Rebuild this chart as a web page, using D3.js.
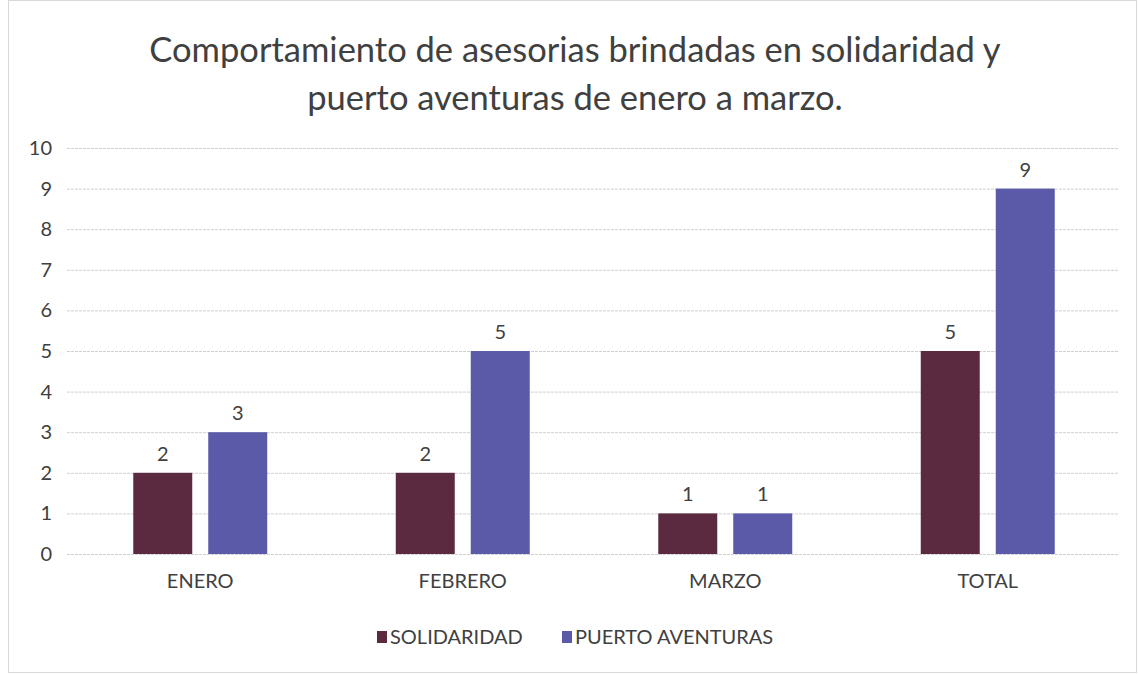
<!DOCTYPE html>
<html><head><meta charset="utf-8">
<script src="https://cdn.jsdelivr.net/npm/d3@7"></script>
<style>body{margin:0;background:#fff}svg{display:block}</style>
</head><body>
<script>
const categories = ["ENERO","FEBRERO","MARZO","TOTAL"];
const seriesNames = ["SOLIDARIDAD","PUERTO AVENTURAS"];
const solidaridad = [2,2,1,5];
const puertoAventuras = [3,5,1,9];
const yTicks = [0,1,2,3,4,5,6,7,8,9,10];
const titleLines = ["Comportamiento de asesorias brindadas en solidaridad y","puerto aventuras de enero a marzo."];
const colors = {"SOLIDARIDAD":"#5c2a40","PUERTO AVENTURAS":"#5a5aa8"};

const W=1138,H=674;
const svg=d3.select("body").append("svg").attr("width",W).attr("height",H);
const font="Lato, 'Open Sans', sans-serif";
svg.append("rect").attr("x",8.5).attr("y",0.5).attr("width",1128).attr("height",672).attr("fill","#fff").attr("stroke","#d9d9d9");

svg.selectAll("text.title").data(titleLines).join("text")
 .attr("x",575).attr("y",(d,i)=>62+i*48).attr("text-anchor","middle")
 .attr("font-family",font).attr("font-size",34.5).attr("fill","#404040").text(d=>d);

const y=d3.scaleLinear().domain([0,10]).range([554,148]);
const x0=d3.scaleBand().domain(categories).range([69,1119]).padding(0);
const x1=d3.scaleBand().domain(seriesNames).range([0,x0.bandwidth()]).paddingInner(16/75).paddingOuter(0.857);

svg.append("g").selectAll("line").data(yTicks).join("line")
 .attr("x1",67).attr("x2",1118).attr("y1",d=>y(d)+0.5).attr("y2",d=>y(d)+0.5)
 .attr("stroke","#cfcfcf").attr("stroke-width",1).attr("stroke-dasharray","3,1");

const yAxis=svg.append("g").attr("transform","translate(62,0)").call(d3.axisLeft(y).tickValues(yTicks).tickSize(0).tickPadding(10));
yAxis.select(".domain").remove();
yAxis.selectAll("text").attr("font-family",font).attr("font-size",20).attr("fill","#404040");

const data=categories.map((c,i)=>({c,vals:[{s:"SOLIDARIDAD",v:solidaridad[i]},{s:"PUERTO AVENTURAS",v:puertoAventuras[i]}]}));
const g=svg.append("g").selectAll("g").data(data).join("g").attr("transform",d=>`translate(${x0(d.c)},0)`);
g.selectAll("rect").data(d=>d.vals).join("rect")
 .attr("x",d=>x1(d.s)).attr("width",x1.bandwidth())
 .attr("y",d=>y(d.v)).attr("height",d=>y(0)-y(d.v)).attr("fill",d=>colors[d.s]);
g.selectAll("text").data(d=>d.vals).join("text")
 .attr("x",d=>x1(d.s)+x1.bandwidth()/2).attr("y",d=>y(d.v)-12).attr("text-anchor","middle")
 .attr("font-family",font).attr("font-size",20).attr("fill","#404040").text(d=>d.v);

const xAxis=svg.append("g").attr("transform","translate(0,554)").call(d3.axisBottom(x0).tickSize(0).tickPadding(20));
xAxis.select(".domain").remove();
xAxis.selectAll("text").attr("font-family",font).attr("font-size",20).attr("fill","#404040");

const legX=[377,562];
const lg=svg.append("g").selectAll("g").data(seriesNames).join("g").attr("transform",(d,i)=>`translate(${legX[i]},631)`);
lg.append("rect").attr("width",10).attr("height",12).attr("fill",d=>colors[d]);
lg.append("text").attr("x",13).attr("y",13).attr("font-family",font).attr("font-size",20).attr("fill","#404040").text(d=>d);
</script>
</body></html>
